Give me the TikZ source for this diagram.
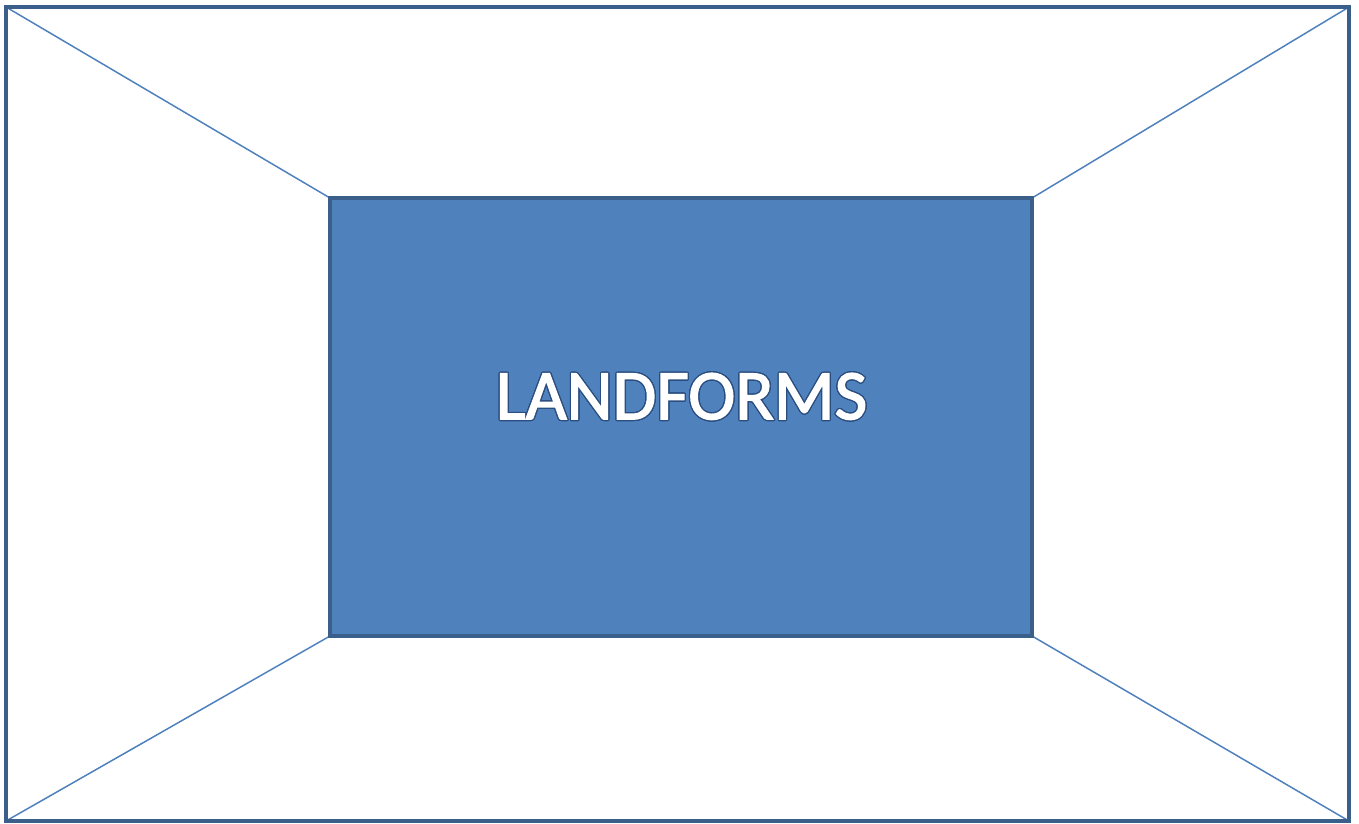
\documentclass[tikz,border=0pt]{standalone}
\usepackage{fontspec}
\setmainfont{Carlito}
\newfontfamily\titlefont[FakeBold=2]{Carlito}
\usepackage{contour}
\contourlength{1.2pt}
\contournumber{24}
\definecolor{fillblue}{HTML}{4F81BD}
\definecolor{edgeblue}{HTML}{3A5F8B}
\definecolor{textedge}{HTML}{2A4E80}
\tikzset{
  outerbox/.style={draw=edgeblue, line width=4pt},
  innerbox/.style={draw=edgeblue, fill=fillblue, line width=4pt},
  diag/.style={draw=fillblue, line width=1.5pt},
  title/.style={font=\titlefont\fontsize{71}{84}\selectfont, text=white}
}
\begin{document}
\begin{tikzpicture}[x=1pt,y=-1pt]
\useasboundingbox (0,0) rectangle (1359,823);
\coordinate (o1) at (6,7);
\coordinate (o2) at (1349,7);
\coordinate (o3) at (1349,821);
\coordinate (o4) at (6,821);
\coordinate (i1) at (330,198);
\coordinate (i2) at (1032,198);
\coordinate (i3) at (1032,636);
\coordinate (i4) at (330,636);
\draw[diag] (o1) -- (i1);
\draw[diag] (o2) -- (i2);
\draw[diag] (o3) -- (i3);
\draw[diag] (o4) -- (i4);
\draw[outerbox] (o1) rectangle (o3);
\draw[innerbox] (i1) rectangle (i3);
\node[title] (t) at (681.5,397) {\contour{textedge}{LANDFORMS}};
\end{tikzpicture}
\end{document}
